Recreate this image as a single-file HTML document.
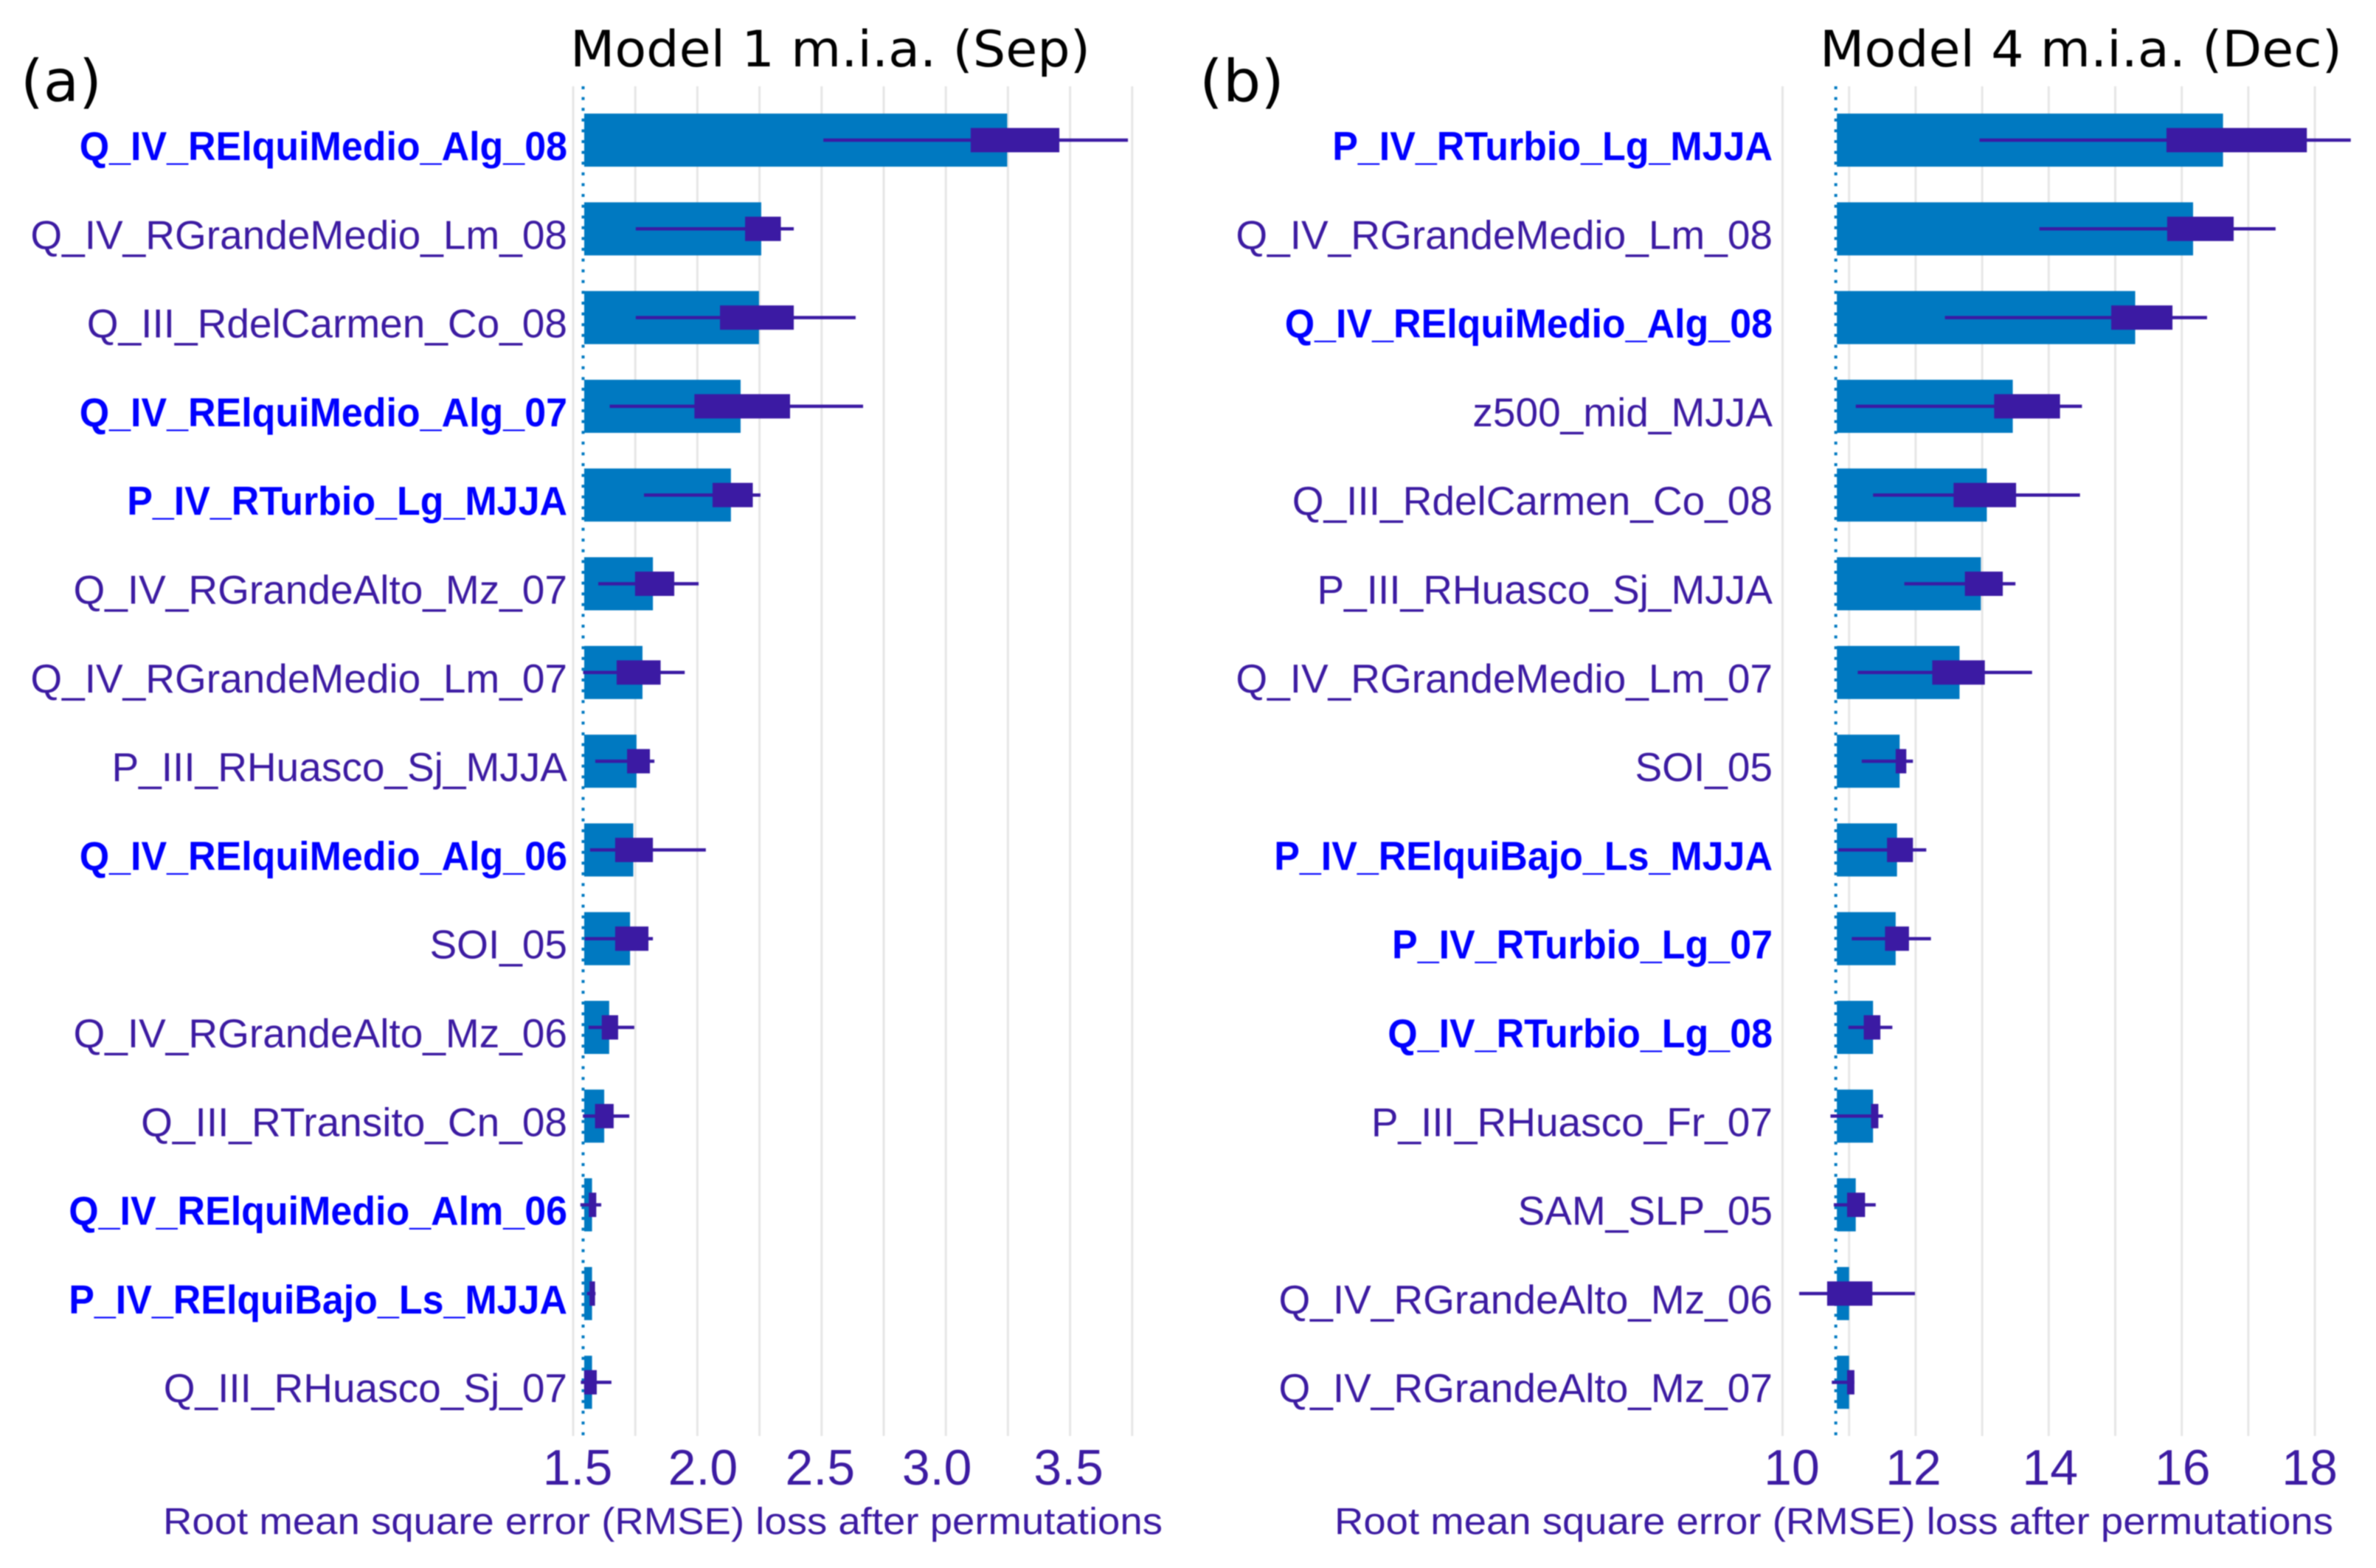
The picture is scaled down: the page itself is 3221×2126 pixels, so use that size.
<!DOCTYPE html>
<html lang="en">
<head>
<meta charset="utf-8">
<title>RMSE permutation importance</title>
<style>
html,body{margin:0;padding:0;background:#fff;}
svg{display:block;filter:blur(0.7px);}
.row-label{font-family:"Liberation Sans",Arial,sans-serif;font-size:55px;fill:#3c1ba2;}
.row-label.key{font-weight:bold;fill:#0000ff;}
.tick{font-family:"Liberation Sans",Arial,sans-serif;font-size:68px;fill:#3c1ba2;}
.axis-title{font-family:"Liberation Sans",Arial,sans-serif;font-size:51px;fill:#3c1ba2;}
.title{font-family:"DejaVu Sans",sans-serif;font-size:68px;fill:#000;}
.panel-tag{font-family:"DejaVu Sans",sans-serif;font-size:78px;fill:#000;}
</style>
</head>
<body>
<svg id="chart" xmlns="http://www.w3.org/2000/svg" width="3221" height="2126" viewBox="0 0 3221 2126">
  <rect x="0" y="0" width="3221" height="2126" fill="#ffffff"/>
  <g id="panel-a"></g>
  <g id="panel-b"></g>
  <text class="panel-tag" x="28" y="137" textLength="110" lengthAdjust="spacingAndGlyphs">(a)</text>
  <text class="panel-tag" x="1626" y="137" textLength="115" lengthAdjust="spacingAndGlyphs">(b)</text>
  <text class="title" x="773" y="90" textLength="705" lengthAdjust="spacingAndGlyphs">Model 1 m.i.a. (Sep)</text>
  <text class="title" x="2467" y="90" textLength="708" lengthAdjust="spacingAndGlyphs">Model 4 m.i.a. (Dec)</text>
  <text class="axis-title" x="221" y="2080" textLength="1355" lengthAdjust="spacingAndGlyphs">Root mean square error (RMSE) loss after permutations</text>
  <text class="axis-title" x="1809" y="2080" textLength="1354" lengthAdjust="spacingAndGlyphs">Root mean square error (RMSE) loss after permutations</text>
</svg>
<script>
/* Panel (a) data */
const labelsA = ['Q_IV_RElquiMedio_Alg_08','Q_IV_RGrandeMedio_Lm_08','Q_III_RdelCarmen_Co_08','Q_IV_RElquiMedio_Alg_07','P_IV_RTurbio_Lg_MJJA','Q_IV_RGrandeAlto_Mz_07','Q_IV_RGrandeMedio_Lm_07','P_III_RHuasco_Sj_MJJA','Q_IV_RElquiMedio_Alg_06','SOI_05','Q_IV_RGrandeAlto_Mz_06','Q_III_RTransito_Cn_08','Q_IV_RElquiMedio_Alm_06','P_IV_RElquiBajo_Ls_MJJA','Q_III_RHuasco_Sj_07'];
const keyA = [1,0,0,1,1,0,0,0,1,0,0,0,1,1,0];
const barA = [3.247,2.257,2.248,2.174,2.135,1.821,1.779,1.755,1.742,1.729,1.645,1.625,1.576,1.576,1.576];
const whiskLoA = [2.507,1.752,1.752,1.647,1.785,1.601,1.540,1.589,1.568,1.547,1.562,1.539,1.529,1.556,1.531];
const whiskHiA = [3.733,2.388,2.637,2.667,2.254,2.005,1.949,1.827,2.034,1.821,1.746,1.726,1.613,1.590,1.654];
const boxLoA = [3.100,2.192,2.091,1.988,2.061,1.749,1.675,1.717,1.669,1.669,1.615,1.588,1.563,1.566,1.544];
const boxHiA = [3.457,2.336,2.388,2.373,2.223,1.907,1.852,1.809,1.821,1.803,1.681,1.663,1.593,1.588,1.595];
const gridA = [1.5,1.75,2,2.25,2.5,2.75,3,3.25,3.5,3.75];
const tickLabelsA = ['1.5','2.0','2.5','3.0','3.5'];
const baselineA = 1.54;

/* Panel (b) data */
const labelsB = ['P_IV_RTurbio_Lg_MJJA','Q_IV_RGrandeMedio_Lm_08','Q_IV_RElquiMedio_Alg_08','z500_mid_MJJA','Q_III_RdelCarmen_Co_08','P_III_RHuasco_Sj_MJJA','Q_IV_RGrandeMedio_Lm_07','SOI_05','P_IV_RElquiBajo_Ls_MJJA','P_IV_RTurbio_Lg_07','Q_IV_RTurbio_Lg_08','P_III_RHuasco_Fr_07','SAM_SLP_05','Q_IV_RGrandeAlto_Mz_06','Q_IV_RGrandeAlto_Mz_07'];
const keyB = [1,0,1,0,0,0,0,0,1,1,1,0,0,0,0];
const barB = [16.62,16.17,15.30,13.46,13.07,12.98,12.66,11.76,11.72,11.70,11.36,11.36,11.10,11.00,11.00];
const whiskLoB = [12.96,13.86,12.44,11.10,11.36,11.83,11.13,11.19,10.84,11.04,10.99,10.72,10.77,10.25,10.74];
const whiskHiB = [18.54,17.41,16.38,14.50,14.47,13.50,13.75,11.96,12.16,12.23,11.65,11.51,11.40,11.99,11.08];
const boxLoB = [15.77,15.78,14.94,13.18,12.57,12.74,12.25,11.70,11.57,11.54,11.22,11.33,10.97,10.67,10.97];
const boxHiB = [17.88,16.78,15.86,14.17,13.51,13.31,13.04,11.86,11.96,11.90,11.47,11.44,11.24,11.35,11.08];
const gridB = [10,11,12,13,14,15,16,17,18];
const tickLabelsB = ['10','12','14','16','18'];
const baselineB = 10.8;

const SVG_NS = 'http://www.w3.org/2000/svg';
const BAR_COLOR = '#0079c1';
const BOX_COLOR = '#3b1aa3';
const GRID_COLOR = '#e6e6e6';
const plotTop = 117, plotBottom = 1947;
const firstRowY = 190, rowStep = 120.3;
const barHeight = 72, boxHeight = 33;
const barInset = 1.5;
const boldSqueeze = 0.945;

function rowY(i){ return firstRowY + i * rowStep; }

function make(parent, tag, attrs, text){
  const el = document.createElementNS(SVG_NS, tag);
  for (const k in attrs) el.setAttribute(k, attrs[k]);
  if (text !== undefined) el.textContent = text;
  parent.appendChild(el);
  return el;
}

/* the printed tick labels sit slightly off their gridlines in the source figure */
function tickNudge(prefix, i){
  if (prefix === 'a') return [6, 7.5, -2, -12, -2][i];
  return [12.5, -3, 2, 1, -7][i];
}

function drawPanel(group, prefix, sx, labelRight, labels, keys, bars, wLo, wHi, bLo, bHi, grid, tickLabels, baseline){
  grid.forEach(function(v){
    const line = make(group, 'line', {x1: sx(v), x2: sx(v), y1: plotTop, y2: plotBottom, stroke: GRID_COLOR, 'stroke-width': 3});
    
    
  });
  const base = make(group, 'line', {x1: sx(baseline), x2: sx(baseline), y1: plotTop, y2: plotBottom, stroke: BAR_COLOR, 'stroke-width': 4, 'stroke-dasharray': '4 10.6'});
  
  
  bars.forEach(function(v, i){
    const y = rowY(i);
    const left = sx(baseline) + barInset;
    const bar = make(group, 'rect', {x: left, y: y - barHeight / 2, width: Math.max(0, sx(v) - left), height: barHeight, fill: BAR_COLOR});
    
    
  });
  labels.forEach(function(name, i){
    const y = rowY(i);
    const whisker = make(group, 'line', {x1: sx(wLo[i]), x2: sx(wHi[i]), y1: y, y2: y, stroke: BOX_COLOR, 'stroke-width': 4.5});
    
    
    const box = make(group, 'rect', {x: sx(bLo[i]), y: y - boxHeight / 2, width: Math.max(0, sx(bHi[i]) - sx(bLo[i])), height: boxHeight, fill: BOX_COLOR});
    
    
    const squeeze = keys[i] ? boldSqueeze : 1;
    const label = make(group, 'text', {transform: 'translate(' + labelRight + ',' + (y + 27) + ') scale(' + squeeze + ',1)', 'text-anchor': 'end', 'class': keys[i] ? 'row-label key' : 'row-label'}, name);
    
    
  });
  tickLabels.forEach(function(t, i){
    const tick = make(group, 'text', {x: sx(parseFloat(t)) + tickNudge(prefix, i), y: 2013, 'text-anchor': 'middle', 'class': 'tick'}, t);
    
    
  });
}

function xA(v){ return 777 + (v - 1.5) * 336.8; }
function xB(v){ return 2416.5 + (v - 10) * 90.2; }

drawPanel(document.getElementById('panel-a'), 'a', xA, 769, labelsA, keyA, barA, whiskLoA, whiskHiA, boxLoA, boxHiA, gridA, tickLabelsA, baselineA);
drawPanel(document.getElementById('panel-b'), 'b', xB, 2403, labelsB, keyB, barB, whiskLoB, whiskHiB, boxLoB, boxHiB, gridB, tickLabelsB, baselineB);
</script>
</body>
</html>
